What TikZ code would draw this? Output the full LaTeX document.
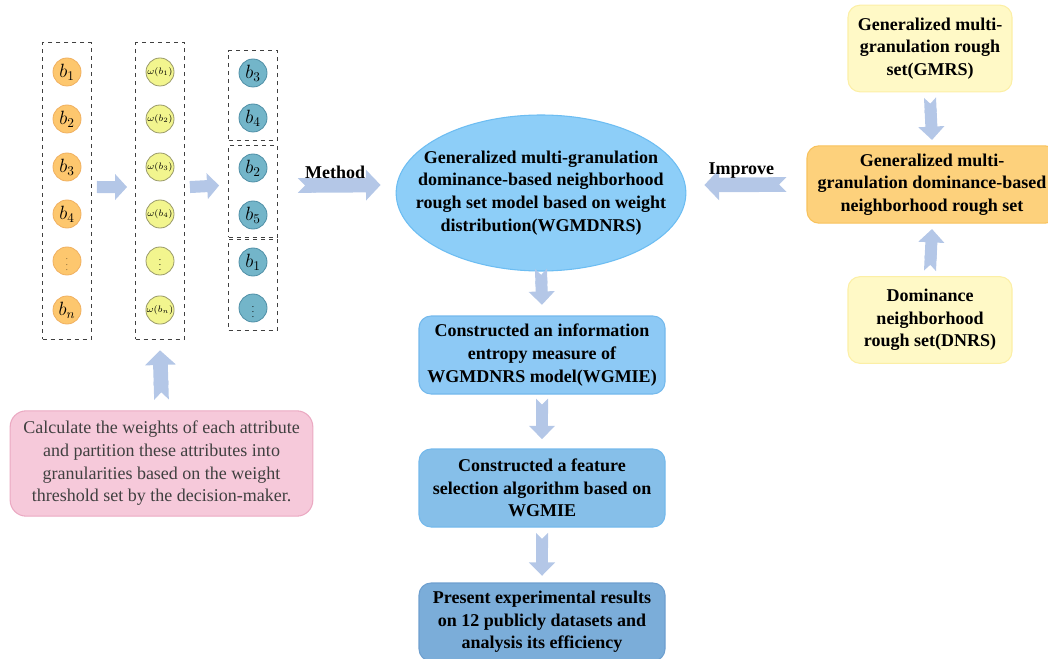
\documentclass[tikz,border=0pt]{standalone}
\usepackage{fontspec}
\setmainfont{Liberation Serif}
\usetikzlibrary{arrows.meta,fit,shapes.geometric,positioning,calc}

\definecolor{attrorange}{HTML}{FDC76E}
\definecolor{attrorangeline}{HTML}{F0B060}
\definecolor{attryellow}{HTML}{F2F58E}
\definecolor{attryellowline}{HTML}{9A9A6A}
\definecolor{attrteal}{HTML}{73B5C9}
\definecolor{attrtealline}{HTML}{4F8FA6}
\definecolor{arrowblue}{HTML}{B4C7E7}
\definecolor{pinkfill}{HTML}{F6C9DA}
\definecolor{pinkline}{HTML}{EBA9C2}
\definecolor{ellfill}{HTML}{8DCEF8}
\definecolor{ellline}{HTML}{6DBDF2}
\definecolor{stepfill}{HTML}{8DC9F5}
\definecolor{stepline}{HTML}{74B9EC}
\definecolor{lastfill}{HTML}{7BADD9}
\definecolor{lastline}{HTML}{6E9FCF}
\definecolor{modelfill}{HTML}{FDD17C}
\definecolor{modelline}{HTML}{F8C25C}
\definecolor{basefill}{HTML}{FFF9C6}
\definecolor{baseline}{HTML}{FCEFA6}

\tikzset{
  attr/.style={circle, minimum size=21pt, inner sep=0pt, line width=0.6pt},
  bvar/.style={attr, font=\fontsize{14}{16}\selectfont},
  wvar/.style={attr, font=\fontsize{7}{8}\selectfont},
  grp/.style={draw=black!75, dashed, line width=0.7pt, inner xsep=7.5pt},
  bold txt/.style={font=\fontsize{13.5}{17}\selectfont\bfseries, align=center},
  stepbox/.style={bold txt, rectangle, rounded corners=9pt, line width=0.8pt,
    minimum width=184.5pt, minimum height=58.5pt, fill=stepfill, draw=stepline},
  basebox/.style={bold txt, rectangle, rounded corners=9pt, line width=0.8pt,
    minimum width=123pt, minimum height=65pt, fill=basefill, draw=baseline},
  barrow/.style={line width=9pt, draw=arrowblue,
    {Triangle Cap[reversed]}-{Triangle[length=10pt,width=19pt]}},
  wide barrow/.style={line width=11pt, draw=arrowblue,
    {Triangle Cap[reversed]}-{Triangle[length=11pt,width=22.5pt]}},
  sarrow/.style={line width=9pt, draw=arrowblue, -{Triangle[length=9pt,width=19pt]}},
}

\begin{document}
\begin{tikzpicture}[x=0.75pt, y=-0.75pt]
  \useasboundingbox (0,0) rectangle (1048,659);

  % attributes b_1 ... b_n
  \foreach \i/\y/\t in {1/72/$b_1$, 2/119/$b_2$, 3/167/$b_3$, 4/214/$b_4$, 5/261/{\tiny$\vdots$}, 6/310/$b_n$}
    \node[bvar, fill=attrorange, draw=attrorangeline] (a\i) at (67,\y) {\t};
  \node[grp, inner ysep=11pt, fit=(a1)(a6)] (g1) {};

  % weights
  \foreach \i/\y/\t in {1/72/\omega(b_1), 2/119/\omega(b_2), 3/167/\omega(b_3), 4/214/\omega(b_4), 5/261/\vdots, 6/310/\omega(b_n)}
    \node[wvar, fill=attryellow, draw=attryellowline] (w\i) at (160,\y) {$\t$};
  \node[grp, inner ysep=11pt, fit=(w1)(w6)] (g2) {};

  % granularities
  \node[bvar, fill=attrteal, draw=attrtealline] (c1) at (253,73) {$b_3$};
  \node[bvar, fill=attrteal, draw=attrtealline] (c2) at (253,118) {$b_4$};
  \node[bvar, fill=attrteal, draw=attrtealline] (c3) at (253,168) {$b_2$};
  \node[bvar, fill=attrteal, draw=attrtealline] (c4) at (253,215) {$b_5$};
  \node[bvar, fill=attrteal, draw=attrtealline] (c5) at (253,262) {$b_1$};
  \node[wvar, fill=attrteal, draw=attrtealline] (c6) at (253,308) {$\vdots$};
  \node[grp, inner ysep=6pt, fit=(c1)(c2)] (g3a) {};
  \node[grp, inner ysep=6pt, fit=(c3)(c4)] (g3b) {};
  \node[grp, inner ysep=6pt, fit=(c5)(c6)] (g3c) {};

  \draw[sarrow] ($(g1.east)+(5,-4)$) -- ($(g2.west)+(-8,-4)$);
  \draw[sarrow] ($(g2.east)+(5,-4)$) -- ($(g3b.west)+(-9,-6)$);

  % weight calculation
  \node[rectangle, rounded corners=12pt, fill=pinkfill, draw=pinkline, line width=0.8pt,
    minimum width=227pt, minimum height=79pt, align=center, text=black!75,
    font=\fontsize{13.5}{17}\selectfont] (calc) at (161.5,463.5)
    {Calculate the weights of each attribute\\and partition these attributes into\\granularities based on the weight\\threshold set by the decision-maker.};
  \draw[wide barrow] ([yshift=8pt]calc.north) -- ([yshift=-8pt]g2.south);

  % proposed model
  \node[ellipse, bold txt, fill=ellfill, draw=ellline, line width=0.8pt,
    minimum width=214.5pt, minimum height=117pt, inner xsep=-17pt, inner ysep=4pt] (wg) at (541,193)
    {Generalized multi-granulation\\dominance-based neighborhood\\rough set model based on weight\\distribution(WGMDNRS)};
  \draw[wide barrow] ($(g3b.east)+(20,-6)$) -- node[bold txt, above=-4pt, pos=0.45] (mlab) {Method} ($(wg.west)+(-15,-8)$);

  % steps
  \node[stepbox] (s1) at (542,355) {Constructed an information\\entropy measure of\\WGMDNRS model(WGMIE)};
  \node[stepbox, fill=stepfill!95!black!100] (s2) at (542,488) {Constructed a feature\\selection algorithm based on\\WGMIE};
  \node[stepbox, fill=lastfill, draw=lastline] (s3) at (542,622) {Present experimental results\\on 12 publicly datasets and\\analysis its efficiency};
  \draw[barrow] ([yshift=2pt]wg.south) -- ([yshift=8pt]s1.north);
  \draw[barrow] ([yshift=-3pt]s1.south) -- ([yshift=7pt]s2.north);
  \draw[barrow] ([yshift=-4pt]s2.south) -- ([yshift=5pt]s3.north);

  % existing models
  \node[basebox] (gmrs) at (930,48.5) {Generalized multi-\\granulation rough\\set(GMRS)};
  \node[bold txt, rectangle, rounded corners=9pt, line width=0.8pt, fill=modelfill, draw=modelline,
    minimum width=187.5pt, minimum height=58pt] (gmd) at (932,184.5)
    {Generalized multi-\\granulation dominance-based\\neighborhood rough set};
  \node[basebox] (dnrs) at (930,320) {Dominance\\neighborhood\\rough set(DNRS)};
  \draw[barrow] ([yshift=-4pt]gmrs.south) -- ([yshift=4pt]gmd.north);
  \draw[barrow] ([yshift=4pt]dnrs.north) -- ([yshift=-4pt]gmd.south);
  \draw[wide barrow] ($(gmd.west)+(-20,0)$) -- node[bold txt, above=-4pt, pos=0.55] (ilab) {Improve} ($(wg.east)+(18,-8)$);
\end{tikzpicture}
\end{document}
